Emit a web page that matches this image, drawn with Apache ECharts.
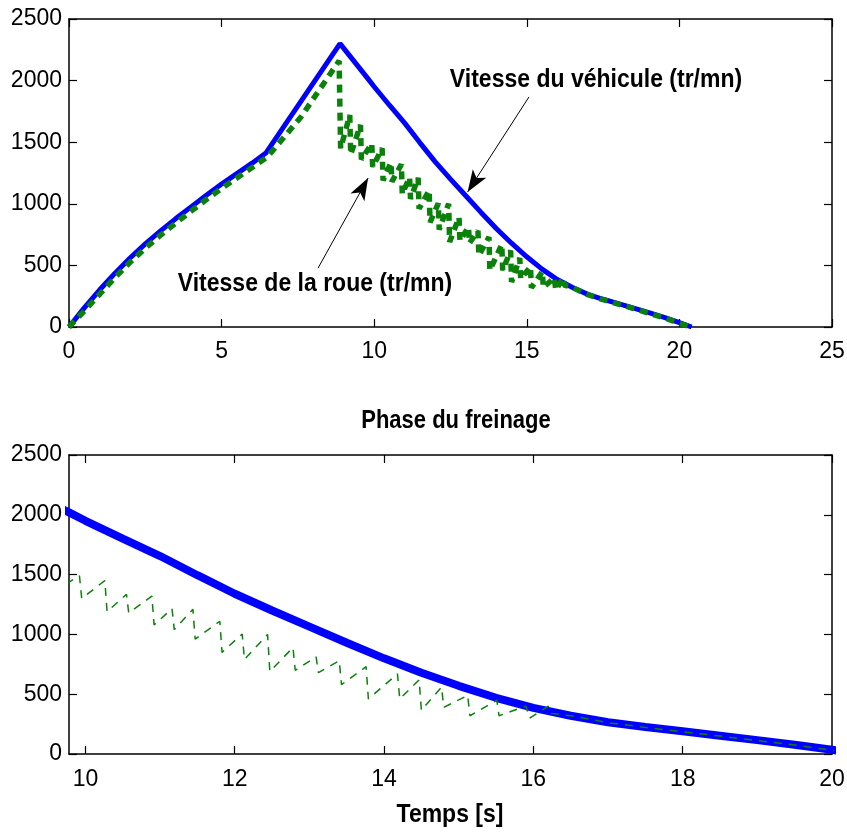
<!DOCTYPE html>
<html>
<head>
<meta charset="utf-8">
<script src="https://cdn.jsdelivr.net/npm/echarts@6/dist/echarts.min.js"></script>
<style>
  html, body { margin: 0; padding: 0; background: #fff; }
  #main { width: 847px; height: 833px; }
</style>
</head>
<body>
<div id="main"></div>
<script>
var myChart = echarts.init(document.getElementById('main'));

var FONT = '"Liberation Sans", Arial, Helvetica, sans-serif';

// vitesse du vehicule (tr/mn)
var vehTime  = [0, 0.5, 1, 1.5, 2, 2.5, 3, 3.5, 4, 4.5, 5, 5.5, 6, 6.45, 8.88,
  9.78, 10, 10.5, 11, 11.5, 12, 12.5, 13, 13.5, 14, 14.5, 15, 15.5, 16,
  16.5, 17, 17.5, 18, 18.5, 19, 19.5, 20, 20.4];
var vehSpeed = [0, 155, 300, 435, 560, 675, 780, 880, 975, 1070, 1160, 1245, 1330, 1412, 2300,
  2020, 1950, 1800, 1655, 1495, 1340, 1200, 1065, 930, 800, 680, 570, 470, 385,
  320, 265, 225, 190, 153, 116, 78, 35, 0];

// vitesse de la roue (tr/mn) - acceleration then ABS cycles
var wheelTime  = [0, 0.5, 1, 1.5, 2, 2.5, 3, 3.5, 4, 4.5, 5, 5.5, 6, 6.5, 7.6, 8.85,
  8.9, 9.2, 9.23, 9.55, 9.58, 9.92, 9.95, 10.26, 10.29, 10.55, 10.58,
  10.89, 10.92, 11.16, 11.19, 11.44, 11.47, 11.8, 11.83, 12.1, 12.13,
  12.44, 12.47, 12.78, 12.81, 13.09, 13.12, 13.4, 13.43, 13.76, 13.79,
  14.18, 14.21, 14.47, 14.5, 14.77, 14.8, 15.12, 15.15, 15.51, 15.54,
  15.9, 15.95, 16.2, 16.23, 16.5, 17, 17.5, 18, 18.5, 19, 19.5, 20, 20.4];
var wheelSpeed = [0, 130, 265, 400, 525, 640, 745, 845, 940, 1035, 1125, 1210, 1295, 1380, 1705, 2160,
  1450, 1720, 1400, 1640, 1360, 1490, 1300, 1450, 1190, 1335, 1180,
  1320, 1080, 1215, 1040, 1210, 960, 1110, 850, 1003, 790,
  1000, 690, 890, 700, 812, 680, 780, 580, 730, 460,
  670, 460, 620, 365, 560, 390, 490, 320, 450, 320,
  400, 300, 400, 340, 320, 262, 222, 186, 150, 112, 75, 30, 0];

var yTicks = [0, 500, 1000, 1500, 2000, 2500];
var xTicksBrake = [10, 12, 14, 16, 18, 20];

function zip(a, b) {
  var out = [];
  for (var i = 0; i < a.length; i++) out.push([a[i], b[i]]);
  return out;
}
var vehData = zip(vehTime, vehSpeed);
var wheelData = zip(wheelTime, wheelSpeed);

var plain = function (v) { return String(v); };
var axisLine = { show: true, onZero: false, lineStyle: { color: '#000', width: 1.5 } };
var tickIn = { show: true, inside: true, length: 8, lineStyle: { color: '#000', width: 1.2 } };
var lbl = { color: '#000', fontFamily: FONT, fontSize: 23, formatter: plain };

function xAx(grid, pos, min, max, showLabel) {
  var a = {
    type: 'value', gridIndex: grid, position: pos, min: min, max: max,
    axisLine: axisLine, axisTick: tickIn, splitLine: { show: false },
    axisLabel: showLabel ? Object.assign({ margin: 13 }, lbl) : { show: false }
  };
  if (grid === 0) a.interval = 5;
  else {
    a.axisTick = Object.assign({ customValues: xTicksBrake }, tickIn);
    a.axisLabel = showLabel ? Object.assign({ margin: 14, customValues: xTicksBrake }, lbl) : { show: false, customValues: xTicksBrake };
  }
  return a;
}
function yAx(grid, pos, showLabel) {
  return {
    type: 'value', gridIndex: grid, position: pos, min: 0, max: 2500, interval: 500,
    axisLine: axisLine, axisTick: tickIn, splitLine: { show: false },
    axisLabel: showLabel ? Object.assign({ margin: 7, customValues: yTicks }, lbl) : { show: false }
  };
}

function label(txt, x, y, size) {
  return {
    type: 'text', x: x, y: y, scaleY: 1.15,
    style: { text: txt, font: 'bold ' + size + 'px ' + FONT, fill: '#000', align: 'center', verticalAlign: 'middle' }
  };
}

option = {
  backgroundColor: '#fff',
  animation: false,
  grid: [
    { left: 69, top: 19, width: 763, height: 308, outerBoundsMode: 'none', containLabel: false },
    { left: 69, top: 455, width: 763, height: 299, outerBoundsMode: 'none', containLabel: false }
  ],
  xAxis: [
    xAx(0, 'bottom', 0, 25, true),
    xAx(0, 'top', 0, 25, false),
    xAx(1, 'bottom', 9.78, 20, true),
    xAx(1, 'top', 9.78, 20, false)
  ],
  yAxis: [
    yAx(0, 'left', true),
    yAx(0, 'right', false),
    yAx(1, 'left', true),
    yAx(1, 'right', false)
  ],
  graphic: [
    label('Vitesse du véhicule (tr/mn)', 596, 80, 23),
    label('Vitesse de la roue (tr/mn)', 315, 284, 23),
    label('Phase du freinage', 456, 421, 22),
    label('Temps [s]', 450, 815, 23)
  ],
  series: [
    {
      type: 'line', xAxisIndex: 0, yAxisIndex: 0, data: vehData,
      showSymbol: false, symbol: 'none',
      lineStyle: { color: '#0000ff', width: 5 },
      markLine: {
        silent: true, symbol: ['none', 'arrow'], symbolSize: [12, 22],
        label: { show: false },
        lineStyle: { color: '#000', width: 1, type: 'solid' },
        data: [
          [{ coord: [15.07, 1867] }, { coord: [13.06, 1096] }],
          [{ coord: [8.16, 478] }, { coord: [9.8, 1209] }]
        ]
      }
    },
    {
      type: 'line', xAxisIndex: 0, yAxisIndex: 0, data: wheelData,
      showSymbol: false, symbol: 'none',
      lineStyle: { color: '#0a820a', width: 5.5, type: [8, 6] }
    },
    {
      type: 'line', xAxisIndex: 2, yAxisIndex: 2, data: vehData,
      showSymbol: false, symbol: 'none', clip: true,
      lineStyle: { color: '#0000ff', width: 8 }
    },
    {
      type: 'line', xAxisIndex: 2, yAxisIndex: 2, data: wheelData,
      showSymbol: false, symbol: 'none', clip: true,
      lineStyle: { color: '#0a820a', width: 1.5, type: [8, 7] }
    }
  ]
};

myChart.setOption(option);
</script>
</body>
</html>
